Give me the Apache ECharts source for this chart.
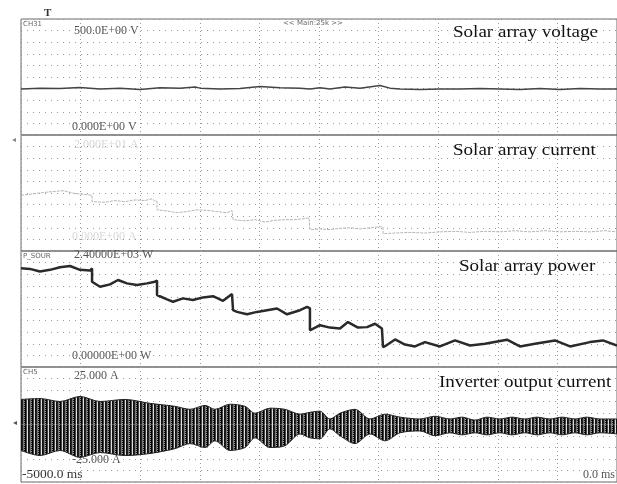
<!DOCTYPE html>
<html><head><meta charset="utf-8">
<script src="https://cdn.jsdelivr.net/npm/echarts@6/dist/echarts.min.js"></script>
<style>html,body{margin:0;padding:0;background:#fff}#c{width:617px;height:484px}</style>
</head><body><div id="c"></div>
<script>
// ---- data (time in ms) ----
const timeV = [-5000,-4841,-4673,-4505,-4337,-4169,-4002,-3834,-3666,-3540,-3498,-3330,-3163,-2995,-2827,-2659,-2576,-2492,-2408,-2282,-2156,-1988,-1904,-1820,-1653,-1485,-1317,-1149,-982,-814,-646,-478,-310,-143,0];
const voltage = [198,202,200,205,198,202,196,204,202,207,202,198,200,209,204,202,198,204,198,207,202,213,202,198,196,198,198,200,198,196,200,196,200,198,198];

const timeP = [-5000,-4925,-4841,-4757,-4673,-4589,-4505,-4421,-4404,-4404,-4337,-4253,-4186,-4111,-4027,-3943,-3876,-3859,-3859,-3775,-3725,-3641,-3557,-3473,-3389,-3305,-3230,-3221,-3221,-3188,-3104,-3020,-2936,-2852,-2768,-2659,-2600,-2576,-2576,-2492,-2408,-2324,-2257,-2173,-2097,-2030,-1972,-1963,-1963,-1946,-1862,-1779,-1695,-1611,-1485,-1359,-1233,-1107,-923,-814,-688,-520,-394,-227,-118,0];
const power = [2045,2030,1975,2010,2065,2090,2010,1995,2040,1765,1660,1710,1800,1730,1695,1730,1765,1790,1490,1400,1350,1420,1385,1440,1465,1370,1510,1510,1175,1140,1090,1140,1175,1210,1090,1175,1245,1215,760,865,815,795,930,815,825,895,795,810,410,430,570,465,425,515,425,550,445,480,565,425,480,550,425,515,550,445];

const timeI = [-5000,-4883,-4757,-4648,-4547,-4438,-4404,-4404,-4295,-4211,-4128,-4044,-3960,-3901,-3876,-3859,-3859,-3775,-3691,-3608,-3524,-3440,-3356,-3272,-3230,-3221,-3221,-3121,-3037,-2953,-2869,-2785,-2701,-2617,-2584,-2576,-2576,-2492,-2408,-2324,-2240,-2156,-2072,-1988,-1963,-1963,-1862,-1737,-1611,-1485,-1359,-1233,-1107,-982,-856,-730,-604,-478,-352,-227,-101,0];
const current = [9.6,9.9,10.2,10.4,9.9,9.7,9.6,8.5,8.4,8.7,8.5,8.8,8.7,9.0,8.6,8.6,7.1,6.9,6.6,6.8,7.1,7.0,6.8,6.6,7.0,7.0,5.4,5.2,5.4,5.0,5.3,5.4,5.4,5.6,5.7,5.7,3.7,3.8,3.7,3.9,4.0,3.8,4.0,4.2,4.1,3.0,3.1,3.2,3.1,3.3,3.4,3.2,3.4,3.3,3.5,3.3,3.5,3.3,3.4,3.3,3.5,3.3];

const timeE = [-5000,-4841,-4673,-4505,-4337,-4128,-3918,-3708,-3582,-3456,-3373,-3247,-3121,-3037,-2911,-2785,-2659,-2576,-2492,-2408,-2324,-2198,-2072,-1946,-1820,-1653,-1527,-1401,-1300,-1191,-1091,-982,-881,-772,-671,-562,-461,-352,-252,-143,0];
const invUpper = [10.9,11.3,10.0,12.2,10.0,10.9,9.2,7.9,6.6,8.3,6.6,8.8,7.9,4.9,7.1,6.6,4.5,5.3,5.8,2.4,4.9,6.6,2.4,4.5,3.2,2.4,3.6,2.4,3.2,1.9,3.2,2.4,3.2,2.4,3.2,2.4,3.2,2.4,3.2,2.4,2.4];
const invLower = [-11.3,-13.5,-11.3,-14.3,-12.2,-13.5,-12.6,-10.5,-8.3,-10.0,-7.1,-11.3,-10.0,-5.8,-10.0,-9.2,-4.1,-5.8,-6.2,-1.9,-4.9,-8.3,-4.1,-7.1,-3.6,-2.8,-4.9,-3.6,-4.5,-3.6,-4.5,-3.6,-4.5,-3.6,-4.5,-3.6,-4.5,-3.6,-4.5,-3.6,-4.1];

const yRanges = [[0,500,50],[0,20,2],[0,2400,240],[-25,25,5]];
const topLabels = ['500.0E+00 V','2.000E+01 A','2.40000E+03 W','25.000 A'];
const botLabels = ['0.000E+00 V','0.000E+00 A','0.00000E+00 W','-25.000 A'];
const titles = ['Solar array voltage','Solar array current','Solar array power','Inverter output current'];
const chanNames = ['CH31','','P_SOUR','CH5'];

// ---- layout ----
const tops = [19,135,251,367];
const heights = [116,116,116,115];
const topLabelY = [25,139,249,370];
const botLabelY = [121,231,350,454];
const titleY = [24,142,258,374];
const titleX = [453,453,459,439];
const zip = (a,b) => a.map((t,i)=>[t,b[i]]);

// stripe pattern for dense AC waveform
const pc = document.createElement('canvas');
pc.width = 7; pc.height = 2;
const pctx = pc.getContext('2d');
const cols = ['#111','#222','#777','#111','#000','#444','#ddd'];
cols.forEach((c,i)=>{pctx.fillStyle=c;pctx.fillRect(i,0,1,2);});
pctx.fillStyle='#999';pctx.fillRect(3,1,1,1);

const grids=[],xAxes=[],yAxes=[],graphics=[];
for(let i=0;i<4;i++){
  grids.push({left:21,right:0,top:tops[i],height:heights[i],show:true,borderColor:'#6a6a6a',borderWidth:1});
  xAxes.push({gridIndex:i,type:'value',min:-5000,max:0,interval:500,
    axisLine:{show:false},axisTick:{show:false},axisLabel:{show:false},
    splitLine:{show:true,lineStyle:{color:'#9a9a9a',width:1,type:[1,3]}}});
  yAxes.push({gridIndex:i,type:'value',min:yRanges[i][0],max:yRanges[i][1],interval:yRanges[i][2],
    axisLine:{show:false},axisTick:{show:false},axisLabel:{show:false},
    splitLine:{show:true,lineStyle:{color:'#9a9a9a',width:1,type:[1,5]}}});
  const faint = i===1;
  graphics.push({type:'text',left:74,top:topLabelY[i],style:{text:topLabels[i],font:'12px "Liberation Serif"',fill:faint?'#d8d8d8':'#555'}});
  graphics.push({type:'text',left:72,top:botLabelY[i],style:{text:botLabels[i],font:'12px "Liberation Serif"',fill:faint?'#d8d8d8':'#555'}});
  graphics.push({type:'text',left:titleX[i],top:titleY[i],scaleX:1.12,style:{text:titles[i],font:'17px "Liberation Serif"',fill:'#111'}});
  if(chanNames[i]) graphics.push({type:'text',left:23,top:tops[i]+2,style:{text:chanNames[i],font:'7px "DejaVu Sans"',fill:'#666'}});
}
graphics.push({type:'text',left:22,top:469,scaleX:1.12,style:{text:'-5000.0 ms',font:'12px "Liberation Serif"',fill:'#333'}});
graphics.push({type:'text',left:583,top:469,style:{text:'0.0 ms',font:'12px "Liberation Serif"',fill:'#555'}});
graphics.push({type:'text',left:283,top:20,style:{text:'<< Main:25k >>',font:'7px "DejaVu Sans"',fill:'#666'}});
graphics.push({type:'text',left:44,top:8,style:{text:'T',font:'bold 11px "Liberation Serif"',fill:'#333'}});
graphics.push({type:'text',left:12,top:136,style:{text:'◂',font:'8px "DejaVu Sans"',fill:'#888'}});
graphics.push({type:'text',left:13,top:419,style:{text:'◂',font:'8px "DejaVu Sans"',fill:'#555'}});

const option = {
  animation:false,
  backgroundColor:'#fff',
  grid:grids, xAxis:xAxes, yAxis:yAxes,
  graphic:graphics,
  series:[
    {type:'line',xAxisIndex:0,yAxisIndex:0,data:zip(timeV,voltage),showSymbol:false,lineStyle:{color:'#444',width:1.5}},
    {type:'line',xAxisIndex:1,yAxisIndex:1,data:zip(timeI,current),showSymbol:false,lineStyle:{color:'#b5b5b5',width:1,type:[3,1]}},
    {type:'line',xAxisIndex:2,yAxisIndex:2,data:zip(timeP,power),showSymbol:false,lineStyle:{color:'#2a2a2a',width:2.5}},
    {type:'line',xAxisIndex:3,yAxisIndex:3,data:zip(timeE,invUpper),smooth:0.3,showSymbol:false,lineStyle:{color:'#222',width:1},areaStyle:{color:{image:pc,repeat:'repeat'},opacity:1}},
    {type:'line',xAxisIndex:3,yAxisIndex:3,data:zip(timeE,invLower),smooth:0.3,showSymbol:false,lineStyle:{color:'#222',width:1},areaStyle:{color:{image:pc,repeat:'repeat'},opacity:1}}
  ]
};
const chart = echarts.init(document.getElementById('c'),null,{renderer:'canvas'});
chart.setOption(option);
</script></body></html>
